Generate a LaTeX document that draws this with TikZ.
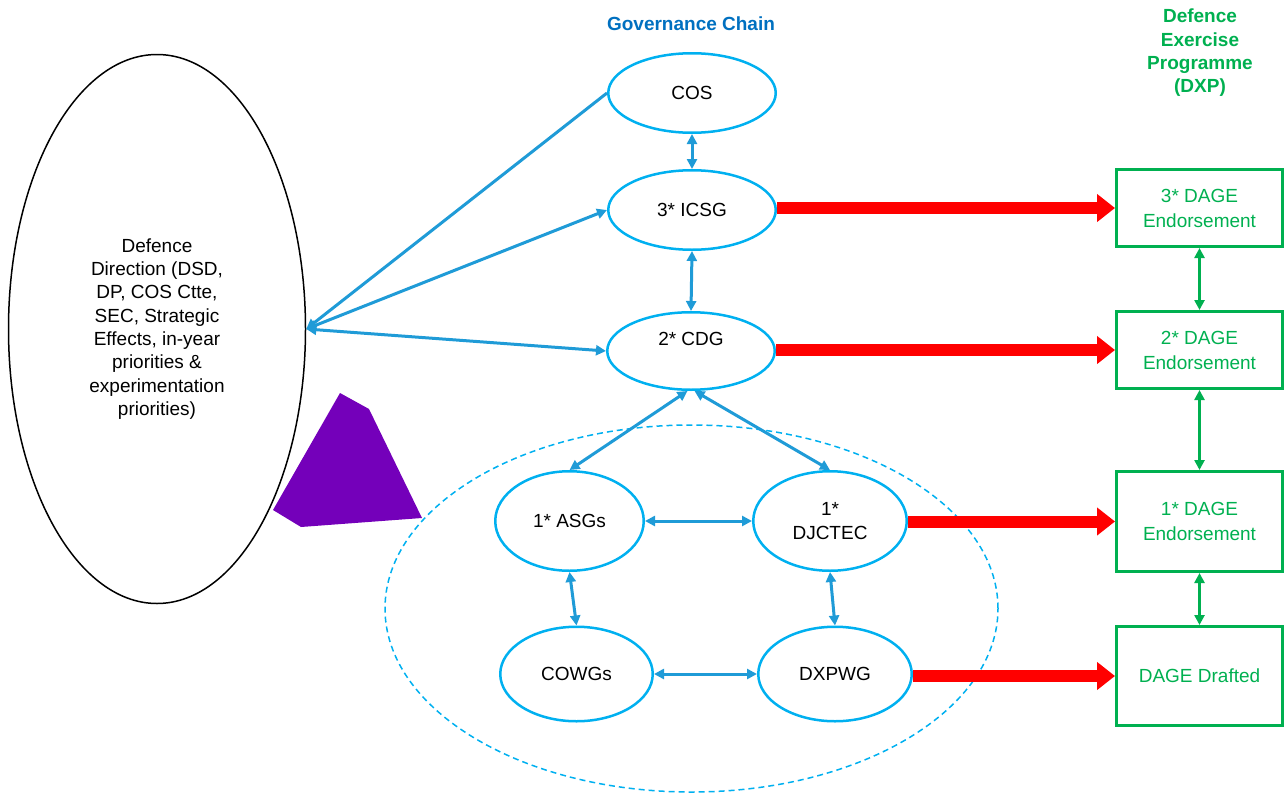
\documentclass[tikz,border=0pt]{standalone}
\usepackage{fontspec}
\setmainfont{Liberation Sans}
\usetikzlibrary{arrows.meta,shapes.geometric,calc}
\definecolor{ellc}{RGB}{0,176,240}
\definecolor{connc}{RGB}{31,155,215}
\definecolor{govc}{RGB}{0,112,192}
\definecolor{grnc}{RGB}{0,176,80}
\definecolor{purpc}{RGB}{116,0,186}
\definecolor{redc}{RGB}{255,0,0}
\begin{document}
\begin{tikzpicture}[x=1pt,y=-1pt,
  txt/.style={font=\fontsize{19}{23.3}\selectfont,align=center},
  ell/.style={ellipse,draw=ellc,line width=2.5pt,inner sep=0pt,txt},
  conn/.style={draw=connc,line width=3pt,-{Triangle[length=10pt,width=10pt]}},
  connb/.style={draw=connc,line width=3pt,{Triangle[length=10pt,width=10pt]}-{Triangle[length=10pt,width=10pt]}},
  gbox/.style={rectangle,draw=grnc,line width=3pt,inner sep=0pt,minimum width=166pt,text=grnc,txt,font=\fontsize{19}{25}\selectfont},
  redarr/.style={draw=redc,line width=12pt,-{Triangle[length=18pt,width=27pt]}},
  garr/.style={draw=grnc,line width=3pt,{Triangle[length=10pt,width=10pt]}-{Triangle[length=10pt,width=10pt]}}
]
\useasboundingbox (0,0) rectangle (1287,795);

% headers
\node[txt,font=\fontsize{19}{23.3}\selectfont\bfseries,text=govc] (hgov) at (691,24) {Governance Chain};
\node[txt,font=\fontsize{19}{23.3}\selectfont\bfseries,text=grnc] (hdxp) at (1200,53) {Defence\\Exercise\\Programme\\(DXP)};

% dashed grouping ellipse
\draw[ellc,line width=1.5pt,dash pattern=on 6pt off 4pt] (691.5,608.5) ellipse [x radius=306.5pt,y radius=183.5pt];

% big left ellipse
\node[ellipse,draw=black,line width=1.5pt,inner sep=0pt,minimum width=297pt,minimum height=549pt,txt] (def) at (157,329)
  {Defence\\Direction (DSD,\\DP, COS Ctte,\\SEC, Strategic\\Effects, in-year\\priorities \&\\experimentation\\priorities)};

% purple shape
\fill[purpc] (340,393) -- (369,409) -- (422,518) -- (301,527) -- (273,510) -- cycle;

% governance ellipses
\node[ell,minimum width=167.5pt,minimum height=79.5pt] (cos) at (692,93) {COS};
\node[ell,minimum width=167.5pt,minimum height=79.5pt] (icsg) at (692,210) {3* ICSG};
\node[ell,minimum width=167.5pt,minimum height=77.5pt] (cdg) at (691,351) {};
\node[txt] (cdgt) at (691,339) {2* CDG};
\node[ell,minimum width=148.5pt,minimum height=99.5pt] (asg) at (569.5,521) {1* ASGs};
\node[ell,minimum width=153.5pt,minimum height=99.5pt] (dj) at (830,521) {1*\\DJCTEC};
\node[ell,minimum width=152.5pt,minimum height=94.5pt] (cow) at (576.5,674) {COWGs};
\node[ell,minimum width=153.5pt,minimum height=94.5pt] (dxp) at (835,674) {DXPWG};

% DXP boxes
\node[gbox,minimum height=77pt] (b1) at (1199.5,208) {3* DAGE\\Endorsement};
\node[gbox,minimum height=77pt] (b2) at (1199.5,350) {2* DAGE\\Endorsement};
\node[gbox,minimum height=100pt] (b3) at (1199.5,521.5) {1* DAGE\\Endorsement};
\node[gbox,minimum height=99pt] (b4) at (1199.5,676) {DAGE Drafted};

% blue connectors
\draw[conn] (cos.west) -- (def.east);
\draw[connb] (icsg.west) -- (def.east);
\draw[connb] (cdg.west) -- (def.east);
\draw[connb] (cos.south) -- (icsg.north);
\draw[connb] (icsg.south) -- (cdg.north);
\draw[connb] (cdg.265) -- (asg.north);
\draw[connb] (cdg.275) -- (dj.north);
\draw[connb] (asg.east) -- (dj.west);
\draw[connb] (asg.south) -- (cow.north);
\draw[connb] (dj.south) -- (dxp.north);
\draw[connb] (cow.east) -- (dxp.west);

% red arrows
\draw[redarr] (b1.west -| icsg.east) -- (b1.west);
\draw[redarr] (b2.west -| cdg.east) -- (b2.west);
\draw[redarr] (b3.west -| dj.east) -- (b3.west);
\draw[redarr] (b4.west -| dxp.east) -- (b4.west);

% green arrows
\draw[garr] (b1.south) -- (b2.north);
\draw[garr] (b2.south) -- (b3.north);
\draw[garr] (b3.south) -- (b4.north);
\end{tikzpicture}
\end{document}
